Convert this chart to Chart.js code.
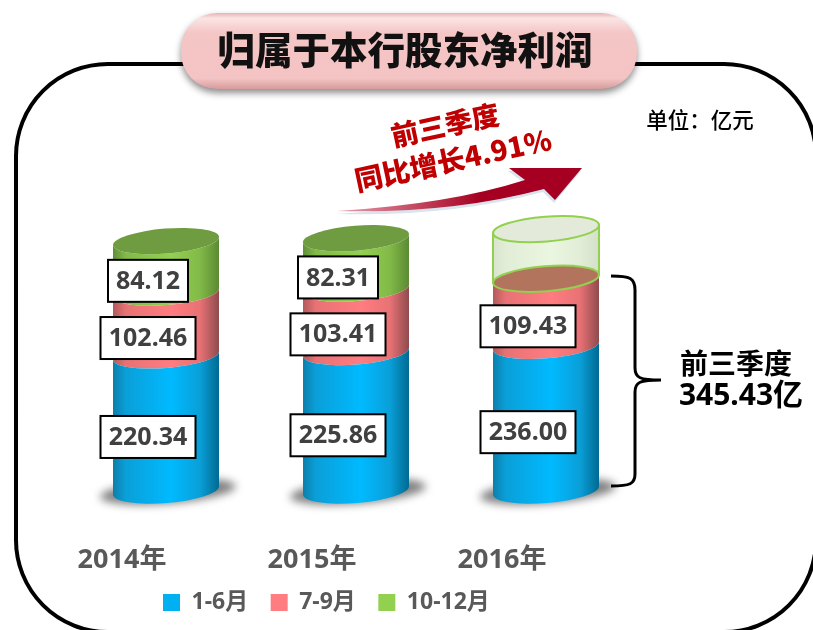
<!DOCTYPE html>
<html>
<head>
<meta charset="utf-8">
<style>
  html, body { margin: 0; padding: 0; background: #fff; }
  #wrap { position: relative; width: 813px; height: 630px; overflow: hidden; }
</style>
<script src="https://cdn.jsdelivr.net/npm/chart.js@4/dist/chart.umd.min.js"></script>
</head>
<body>
<div id="wrap"><canvas id="myChart" width="813" height="630"></canvas></div>
<script>
const years = ["2014年", "2015年", "2016年"];
const halfYear = [220.34, 225.86, 236.0];
const thirdQuarter = [102.46, 103.41, 109.43];
const fourthQuarter = [84.12, 82.31, null];
const notYetReported = [null, null, 81]; // empty glass part, height

const FONT = "'Noto Sans', 'Noto Sans CJK SC', sans-serif";
const CJK = "'Noto Sans CJK SC', 'Noto Sans', sans-serif";
const TILT = -0.08;
const RY = 12.5;

function rr(ctx, x, y, w, h, r) {
  ctx.beginPath();
  ctx.roundRect(x, y, w, h, r);
}

function sideFill(ctx, el, stops) {
  const g = ctx.createLinearGradient(el.x - el.width / 2, 0, el.x + el.width / 2, 0);
  g.addColorStop(0, stops[0]);
  g.addColorStop(0.12, stops[1]);
  g.addColorStop(0.55, stops[2]);
  g.addColorStop(0.82, stops[1]);
  g.addColorStop(1, stops[3]);
  return g;
}

function lidPath(ctx, el, y) {
  const rx = el.width / 2 / Math.cos(TILT);
  ctx.beginPath();
  ctx.ellipse(el.x, y, rx, RY, TILT, 0, Math.PI * 2);
}

// bars are turned into cylinders, geometry comes from the bar elements
const cylinders = {
  id: "cylinders",
  beforeDatasetsDraw(chart) {
    const ctx = chart.ctx;
    chart.getDatasetMeta(0).data.forEach((el) => {
      ctx.save();
      ctx.filter = "blur(4px)";
      ctx.fillStyle = "#808080";
      ctx.beginPath();
      ctx.ellipse(el.x + 2, el.base + 1, el.width / 2 + 15, 12, TILT, 0, Math.PI * 2);
      ctx.fill();
      ctx.restore();
    });
  },
  beforeDatasetDraw(chart, args) {
    const ctx = chart.ctx;
    const ds = chart.data.datasets[args.index];
    args.meta.data.forEach((el, i) => {
      if (ds.data[i] == null) return;
      const rx = el.width / 2 / Math.cos(TILT);
      ctx.beginPath();
      ctx.ellipse(el.x, el.base, rx, RY, TILT, 0, Math.PI);
      ctx.ellipse(el.x, el.y, rx, RY, TILT, Math.PI, 0, true);
      ctx.closePath();
      ctx.fillStyle = sideFill(ctx, el, ds.shade);
      ctx.fill();
    });
    return false;
  },
  afterDatasetsDraw(chart) {
    const ctx = chart.ctx;
    const metas = [0, 1, 2, 3].map((n) => chart.getDatasetMeta(n));

    // green lids on the finished years
    [0, 1].forEach((i) => {
      const el = metas[2].data[i];
      lidPath(ctx, el, el.y);
      ctx.fillStyle = "#6f9b41";
      ctx.fill();
    });

    // 2016: glass part with an empty top
    const glass = metas[3].data[2];
    const red = metas[1].data[2];
    ctx.strokeStyle = "#92d050";
    ctx.lineWidth = 2;
    lidPath(ctx, red, red.y);
    ctx.fillStyle = "#b3745e";
    ctx.fill();
    ctx.stroke();
    lidPath(ctx, glass, glass.y);
    ctx.fillStyle = "#e3ead9";
    ctx.fill();
    ctx.stroke();
    const hw = glass.width / 2;
    const dy = hw * Math.tan(TILT);
    ctx.beginPath();
    ctx.moveTo(glass.x - hw, glass.y - dy);
    ctx.lineTo(red.x - hw, red.y - dy);
    ctx.moveTo(glass.x + hw, glass.y + dy);
    ctx.lineTo(red.x + hw, red.y + dy);
    ctx.stroke();

    // value boxes
    ctx.font = "bold 25px " + FONT;
    ctx.textAlign = "center";
    ctx.textBaseline = "middle";
    [0, 1, 2].forEach((n) => {
      metas[n].data.forEach((el, i) => {
        const v = chart.data.datasets[n].data[i];
        if (v == null) return;
        const txt = v.toFixed(2);
        const w = Math.round(ctx.measureText(txt).width) + 16;
        const cx = el.x - 18;
        const cy = (el.y + el.base) / 2 + 14;
        ctx.fillStyle = "#fff";
        ctx.fillRect(cx - w / 2, cy - 21, w, 42);
        ctx.strokeStyle = "#000";
        ctx.lineWidth = 2;
        ctx.strokeRect(cx - w / 2, cy - 21, w, 42);
        ctx.fillStyle = "#404040";
        ctx.fillText(txt, cx, cy + 1);
      });
    });
  },
};

const decorations = {
  id: "decorations",
  afterLayout(chart) {
    // legend sits left of the plot centre in the reference
    const lg = chart.legend;
    lg.left = 163 - lg.options.labels.padding;
    lg.right = lg.left + lg.width;
    lg.top = 591 - lg.options.labels.padding;
    lg.bottom = lg.top + lg.height;
  },
  beforeDraw(chart) {
    const ctx = chart.ctx;
    ctx.strokeStyle = "#000";
    ctx.lineWidth = 4;
    rr(ctx, 16, 64, 800, 568, 92);
    ctx.stroke();
  },
  afterDraw(chart) {
    const ctx = chart.ctx;

    // title pill
    ctx.save();
    ctx.shadowColor = "rgba(0,0,0,0.45)";
    ctx.shadowBlur = 7;
    ctx.shadowOffsetY = 4;
    rr(ctx, 181, 13, 456, 76, 36);
    const pill = ctx.createLinearGradient(0, 13, 0, 89);
    pill.addColorStop(0, "#e6b4b4");
    pill.addColorStop(0.07, "#fbe4e4");
    pill.addColorStop(0.26, "#f5c6c6");
    pill.addColorStop(0.86, "#f4c3c3");
    pill.addColorStop(1, "#d59c9c");
    ctx.fillStyle = pill;
    ctx.fill();
    ctx.restore();

    ctx.textAlign = "center";
    ctx.textBaseline = "middle";
    ctx.fillStyle = "#111";
    ctx.font = "900 37.5px " + CJK;
    ctx.fillText("归属于本行股东净利润", 405, 50);

    ctx.fillStyle = "#000";
    ctx.font = "500 21.5px " + CJK;
    ctx.fillText("单位：亿元", 700, 120);

    // growth arrow
    const arrow = (ox, oy, fill) => {
      ctx.beginPath();
      ctx.moveTo(337 + ox, 211 + oy);
      ctx.quadraticCurveTo(450 + ox, 204 + oy, 525 + ox, 180 + oy);
      ctx.lineTo(509 + ox, 168 + oy);
      ctx.lineTo(582 + ox, 168 + oy);
      ctx.lineTo(555 + ox, 200 + oy);
      ctx.lineTo(544 + ox, 189 + oy);
      ctx.quadraticCurveTo(450 + ox, 214 + oy, 337 + ox, 211 + oy);
      ctx.closePath();
      ctx.fillStyle = fill;
      ctx.fill();
    };
    arrow(-1, 3, "#dbe4ee");
    const red = ctx.createLinearGradient(337, 0, 480, 0);
    red.addColorStop(0, "#e8a0ae");
    red.addColorStop(1, "#a50021");
    arrow(0, 0, red);

    ctx.save();
    ctx.fillStyle = "#c00000";
    ctx.translate(445, 125);
    ctx.rotate(-0.21);
    ctx.font = "900 27.5px " + CJK;
    ctx.fillText("前三季度", 0, 0);
    ctx.restore();
    ctx.save();
    ctx.fillStyle = "#c00000";
    ctx.translate(453, 160);
    ctx.rotate(-0.21);
    ctx.font = "900 28px " + CJK;
    ctx.fillText("同比增长4.91%", 0, 0);
    ctx.restore();

    // brace
    ctx.strokeStyle = "#000";
    ctx.lineWidth = 3;
    ctx.beginPath();
    ctx.moveTo(611, 276);
    ctx.bezierCurveTo(630, 276, 635, 278, 635, 290);
    ctx.lineTo(635, 368);
    ctx.bezierCurveTo(635, 378, 640, 380, 661, 380);
    ctx.bezierCurveTo(640, 380, 635, 382, 635, 392);
    ctx.lineTo(635, 474);
    ctx.bezierCurveTo(635, 484, 630, 486, 611, 486);
    ctx.stroke();

    ctx.fillStyle = "#000";
    ctx.font = "bold 28px " + CJK;
    ctx.fillText("前三季度", 736, 363);
    ctx.font = "bold 30px " + FONT;
    ctx.fillText("345.43亿", 741, 396);
  },
};

new Chart(document.getElementById("myChart"), {
  type: "bar",
  data: {
    labels: years,
    datasets: [
      { label: "1-6月", data: halfYear, backgroundColor: "#00b0f0", shade: ["#0b7fab", "#0a9fd8", "#00baff", "#006a92"] },
      { label: "7-9月", data: thirdQuarter, backgroundColor: "#ff7c80", shade: ["#b25a5c", "#e87275", "#ff7c80", "#8f4b4d"] },
      { label: "10-12月", data: fourthQuarter, backgroundColor: "#92d050", shade: ["#5f8f38", "#82ba48", "#92d050", "#5b8a33"] },
      { label: "", data: notYetReported, backgroundColor: "#eaf5e0", shade: ["#d9e4ce", "#e2edd7", "#ebf6e1", "#d5e0ca"] },
    ],
  },
  options: {
    responsive: false,
    animation: false,
    layout: { padding: { left: 71, right: 172, top: 184, bottom: -2 } },
    datasets: { bar: { barThickness: 106 } },
    scales: {
      x: {
        stacked: true,
        grid: { display: false, drawTicks: false },
        border: { display: false },
        ticks: {
          padding: 54,
          labelOffset: -44,
          maxRotation: 0,
          color: "#595959",
          font: { family: FONT, size: 27, weight: "bold" },
        },
        afterFit(axis) {
          axis.height = 86;
        },
      },
      y: { stacked: true, display: false, min: 0, max: 500 },
    },
    plugins: {
      legend: {
        position: "bottom",
        align: "start",
        labels: {
          boxWidth: 17,
          boxHeight: 17,
          padding: 22.5,
          color: "#595959",
          font: { family: FONT, size: 23, weight: "bold" },
          filter: (item) => item.datasetIndex < 3,
        },
      },
      tooltip: { enabled: false },
    },
  },
  plugins: [cylinders, decorations],
});
</script>
</body>
</html>
